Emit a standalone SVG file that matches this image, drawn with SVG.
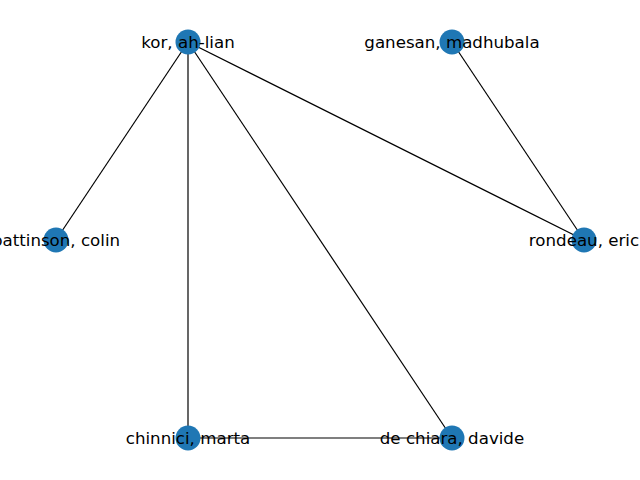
<svg xmlns="http://www.w3.org/2000/svg" width="640" height="480" viewBox="0 0 640 480">
<style>
.e{stroke:#000;stroke-width:1.2;fill:none}
.n{fill:#1f77b4}
.t{font-family:"DejaVu Sans",sans-serif;font-size:16.67px;fill:#000;text-anchor:middle;dominant-baseline:central}
</style>
<rect width="640" height="480" fill="#fff"/>
<g id="connectors">
<line class="e" x1="188" y1="42" x2="56" y2="240"/>
<line class="e" x1="188" y1="42" x2="188" y2="438"/>
<line class="e" x1="188" y1="42" x2="452" y2="438"/>
<line class="e" x1="188" y1="42" x2="584" y2="240"/>
<line class="e" x1="452" y1="42" x2="584" y2="240"/>
<line class="e" x1="188" y1="438" x2="452" y2="438"/>
</g>
<g id="kor"><circle class="n" cx="188" cy="42" r="12.5"/><text class="t" x="188" y="42">kor, ah-lian</text></g>
<g id="ganesan"><circle class="n" cx="452" cy="42" r="12.5"/><text class="t" x="452" y="42">ganesan, madhubala</text></g>
<g id="pattinson"><circle class="n" cx="56" cy="240" r="12.5"/><text class="t" x="56" y="240">pattinson, colin</text></g>
<g id="rondeau"><circle class="n" cx="584" cy="240" r="12.5"/><text class="t" x="584" y="240">rondeau, eric</text></g>
<g id="chinnici"><circle class="n" cx="188" cy="438" r="12.5"/><text class="t" x="188" y="438">chinnici, marta</text></g>
<g id="dechiara"><circle class="n" cx="452" cy="438" r="12.5"/><text class="t" x="452" y="438">de chiara, davide</text></g>
</svg>
